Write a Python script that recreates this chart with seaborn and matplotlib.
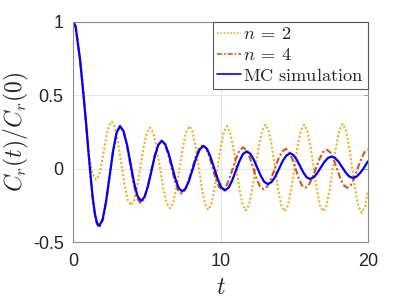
import numpy as np
import pandas as pd
import matplotlib
matplotlib.use("Agg")
import matplotlib.pyplot as plt
import seaborn as sns

# ---- data ----
t_mc = [0, 0.146, 0.29, 0.44, 0.58, 0.73, 0.875, 1.02, 1.17, 1.31, 1.46, 1.60, 1.75,
        1.985, 2.22, 2.455, 2.69, 2.925, 3.16,
        3.40, 3.64, 3.875, 4.11, 4.35, 4.59,
        4.825, 5.06, 5.295, 5.53, 5.765, 6.0,
        6.23, 6.46, 6.69, 6.92, 7.15, 7.38,
        7.62, 7.86, 8.105, 8.35, 8.59, 8.83,
        9.07, 9.31, 9.555, 9.80, 10.04, 10.28,
        10.53, 10.77, 11.02, 11.27, 11.51, 11.76,
        12.0, 12.24, 12.48, 12.72, 12.96, 13.2,
        13.45, 13.71, 13.96, 14.21, 14.47, 14.72,
        14.94, 15.16, 15.385, 15.61, 15.83, 16.05,
        16.295, 16.54, 16.785, 17.03, 17.275, 17.52,
        17.76, 18.0, 18.245, 18.49, 18.73, 18.97,
        19.22, 19.46, 19.71, 19.96, 20.0]
c_mc = [1, 0.97, 0.86, 0.75, 0.61, 0.45, 0.29, 0.115, -0.055, -0.20, -0.31, -0.37, -0.39,
        -0.344, -0.22, -0.05, 0.12, 0.244, 0.29,
        0.256, 0.163, 0.035, -0.093, -0.186, -0.22,
        -0.193, -0.118, -0.015, 0.088, 0.163, 0.19,
        0.167, 0.104, 0.018, -0.069, -0.132, -0.155,
        -0.134, -0.078, 0, 0.078, 0.134, 0.155,
        0.135, 0.079, 0.004, -0.072, -0.128, -0.148,
        -0.130, -0.082, -0.015, 0.052, 0.100, 0.118,
        0.103, 0.062, 0.007, -0.049, -0.090, -0.105,
        -0.091, -0.053, 0, 0.053, 0.091, 0.105,
        0.093, 0.061, 0.018, -0.026, -0.058, -0.07,
        -0.060, -0.032, 0.007, 0.045, 0.073, 0.083,
        0.073, 0.047, 0.01, -0.027, -0.053, -0.063,
        -0.054, -0.030, 0.004, 0.045, 0.05]

t_n4 = [0, 0.146, 0.29, 0.44, 0.58, 0.73, 0.875, 1.02, 1.17, 1.31, 1.46, 1.60, 1.75,
        1.985, 2.22, 2.455, 2.69, 2.925, 3.16,
        3.39, 3.62, 3.855, 4.09, 4.32, 4.55,
        4.79, 5.03, 5.265, 5.50, 5.74, 5.98,
        6.20, 6.43, 6.65, 6.87, 7.10, 7.32,
        7.56, 7.81, 8.05, 8.29, 8.54, 8.78,
        9.0, 9.22, 9.44, 9.66, 9.88, 10.1,
        10.34, 10.57, 10.81, 11.05, 11.28, 11.52,
        11.75, 11.98, 12.21, 12.44, 12.67, 12.9,
        13.15, 13.41, 13.66, 13.91, 14.17, 14.42,
        14.64, 14.85, 15.07, 15.29, 15.50, 15.72,
        15.965, 16.21, 16.455, 16.70, 16.945, 17.19,
        17.42, 17.66, 17.89, 18.12, 18.36, 18.59,
        18.825, 19.06, 19.295, 19.53, 19.765, 20.0]
c_n4 = [1, 0.97, 0.86, 0.75, 0.61, 0.45, 0.285, 0.11, -0.06, -0.205, -0.315, -0.38, -0.40,
        -0.354, -0.228, -0.055, 0.118, 0.244, 0.29,
        0.255, 0.159, 0.028, -0.104, -0.200, -0.235,
        -0.207, -0.129, -0.023, 0.084, 0.162, 0.19,
        0.166, 0.10, 0.01, -0.08, -0.146, -0.17,
        -0.148, -0.087, -0.004, 0.079, 0.140, 0.162,
        0.141, 0.085, 0.009, -0.068, -0.124, -0.145,
        -0.126, -0.0725, 0, 0.0725, 0.126, 0.145,
        0.126, 0.074, 0.003, -0.069, -0.121, -0.14,
        -0.122, -0.071, -0.003, 0.066, 0.117, 0.135,
        0.117, 0.069, 0.003, -0.064, -0.112, -0.13,
        -0.113, -0.065, 0, 0.065, 0.113, 0.13,
        0.113, 0.065, 0, -0.065, -0.113, -0.13,
        -0.113, -0.065, 0, 0.065, 0.113, 0.13]

t_n2 = [0, 0.255, 0.51, 0.765, 1.02, 1.275, 1.53,
        1.71, 1.89, 2.065, 2.24, 2.42, 2.6,
        2.82, 3.03, 3.25, 3.47, 3.68, 3.9,
        4.12, 4.33, 4.55, 4.77, 4.98, 5.2,
        5.425, 5.65, 5.875, 6.10, 6.325, 6.55,
        6.77, 6.99, 7.215, 7.44, 7.66, 7.88,
        8.09, 8.30, 8.515, 8.73, 8.94, 9.15,
        9.36, 9.57, 9.785, 10.0, 10.21, 10.42,
        10.63, 10.85, 11.06, 11.27, 11.49, 11.7,
        11.92, 12.14, 12.365, 12.59, 12.81, 13.03,
        13.25, 13.47, 13.685, 13.90, 14.12, 14.34,
        14.56, 14.78, 15.0, 15.22, 15.44, 15.66,
        15.88, 16.09, 16.31, 16.53, 16.74, 16.96,
        17.18, 17.40, 17.62, 17.84, 18.06, 18.28,
        18.495, 18.71, 18.925, 19.14, 19.355, 19.57,
        19.79, 20.0]
c_n2 = [1, 0.90, 0.70, 0.42, 0.12, -0.03, -0.075,
        -0.049, 0.024, 0.123, 0.221, 0.294, 0.32,
        0.282, 0.178, 0.035, -0.108, -0.212, -0.25,
        -0.215, -0.118, 0.015, 0.148, 0.245, 0.28,
        0.243, 0.143, 0.005, -0.133, -0.233, -0.27,
        -0.233, -0.13, 0.01, 0.15, 0.253, 0.29,
        0.252, 0.148, 0.005, -0.138, -0.242, -0.28,
        -0.242, -0.138, 0.005, 0.148, 0.252, 0.29,
        0.251, 0.146, 0.003, -0.141, -0.247, -0.285,
        -0.246, -0.139, 0.008, 0.154, 0.261, 0.30,
        0.26, 0.153, 0.005, -0.143, -0.251, -0.29,
        -0.251, -0.143, 0.005, 0.153, 0.26, 0.30,
        0.26, 0.153, 0.005, -0.143, -0.251, -0.29,
        -0.25, -0.141, 0.008, 0.156, 0.265, 0.305,
        0.264, 0.154, 0.003, -0.149, -0.259, -0.30,
        -0.26, -0.15]

labels = [r"$n\:=\:2$", r"$n\:=\:4$", r"$\mathrm{MC\ simulation}$"]
x_ticks = [0, 10, 20]
y_ticks = [-0.5, 0, 0.5, 1]
y_tick_labels = ["-0.5", "0", "0.5", "1"]

# ---- plotting ----
sns.set_style("white")
plt.rcParams["font.family"] = ["Liberation Sans", "DejaVu Sans"]
plt.rcParams["mathtext.fontset"] = "cm"

fig = plt.figure(figsize=(4.08, 3.0), dpi=100)
ax = fig.add_axes([0.18, 0.193, 0.722, 0.734])

frame_col = "#8c8c8c"
sns.lineplot(x=t_n2, y=c_n2, ax=ax, color="#EDB120", linestyle=(0, (1, 1)),
             linewidth=1.5, label=labels[0], sort=False)
sns.lineplot(x=t_n4, y=c_n4, ax=ax, color="#D95319",
             linestyle=(0, (3, 1.2, 1, 1.2)),
             linewidth=1.5, label=labels[1], sort=False)
sns.lineplot(x=t_mc, y=c_mc, ax=ax, color="#0000FF", linestyle="-",
             linewidth=1.6, label=labels[2], sort=False,
             solid_joinstyle="round")

ax.set_xlim(0, 20)
ax.set_ylim(-0.5, 1)
ax.set_xticks(x_ticks)
ax.set_xticklabels([str(v) for v in x_ticks])
ax.set_yticks(y_ticks)
ax.set_yticklabels(y_tick_labels)
ax.grid(True, color="#e6e6e6", linewidth=0.7)
ax.set_axisbelow(True)
for s in ax.spines.values():
    s.set_visible(True)
    s.set_color(frame_col)
    s.set_linewidth(0.8)
ax.tick_params(direction="in", length=3, width=0.6, colors=frame_col,
               labelcolor="#262626", labelsize=13, top=True, right=True)
ax.tick_params(axis="x", pad=8)
ax.tick_params(axis="y", pad=7)

ax.set_xlabel(r"$t$", fontsize=17, labelpad=5, color="#262626")
ax.set_ylabel(r"$C_r(t)/C_r(0)$", fontsize=17, labelpad=1, color="#262626")

leg = ax.legend(loc="upper right", fontsize=13.2, frameon=True, fancybox=False,
                handlelength=1.3, handletextpad=0.1, borderpad=0.25,
                labelspacing=0.2, borderaxespad=0.0, framealpha=1)
leg.get_frame().set_edgecolor("#555555")
leg.get_frame().set_linewidth(0.8)
for ln in leg.get_lines():
    ln.set_linewidth(1.2)

fig.savefig("out.png", dpi=100)
